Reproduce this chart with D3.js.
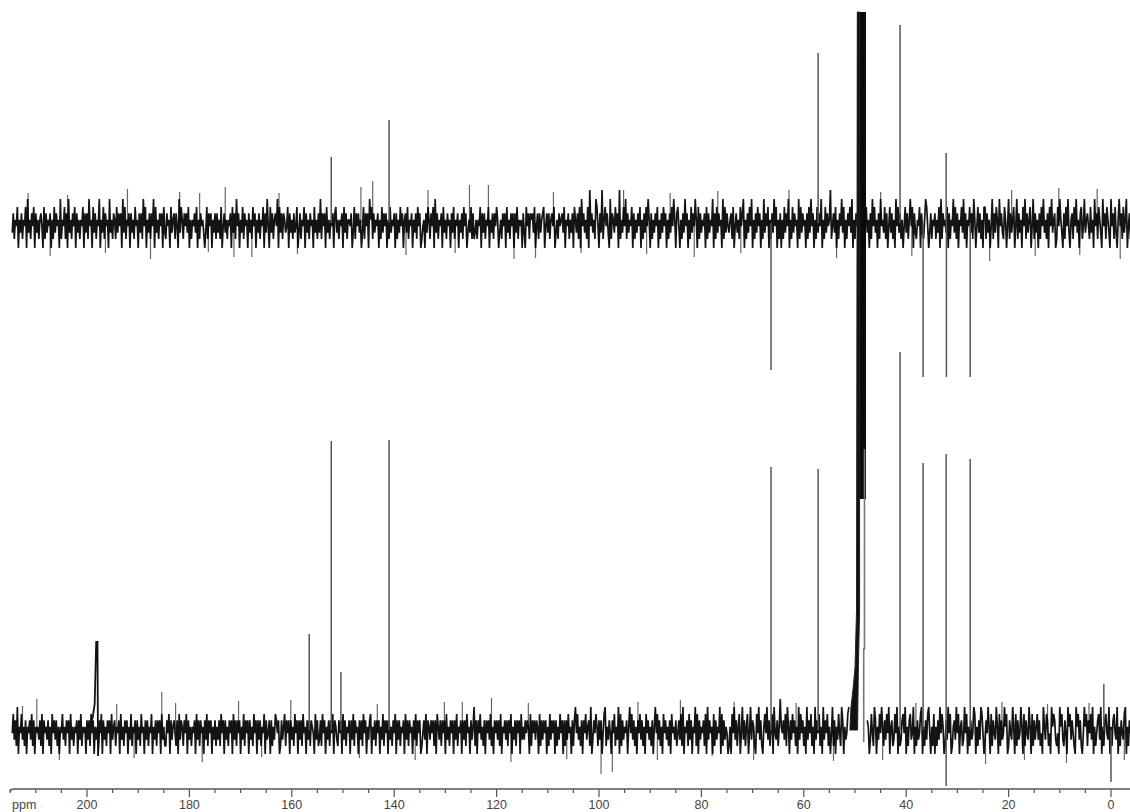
<!DOCTYPE html>
<html><head><meta charset="utf-8">
<script src="https://cdn.jsdelivr.net/npm/d3@7"></script>
<style>html,body{margin:0;padding:0;background:#fff;overflow:hidden}</style>
</head><body><svg id="c" width="1130" height="812"></svg>
<script>
// ---- chemical shift axis ----
const axisTicks = [200, 180, 160, 140, 120, 100, 80, 60, 40, 20, 0];
const axisUnit = "ppm";
const axisStart = 215, axisEnd = -4;
const noiseStart = 214.6, noiseStep = 0.2;

// ---- DEPT-135 trace (upper): [ppm, intensity] ----
const deptPeaks = [[152.3, 66], [141.0, 103], [66.4, -147], [57.2, 170], [41.2, 198],
                   [36.7, -154], [32.2, 70], [32.15, -154], [27.5, -154]];
const deptSpikes = [[144.2, 42], [125.3, 38], [178.0, 30], [171.3, -34], [116.6, -36],
  [211.5, 30], [207.2, -33], [203.8, 28], [196.4, -30], [192.1, 34], [187.6, -36], [181.9, 31],
  [176.3, -29], [173.0, 36], [167.8, -34], [162.5, 30], [158.9, -31], [146.5, 36], [137.7, -32],
  [133.4, 33], [128.1, -30], [121.6, 38], [112.4, -35], [108.9, 31], [103.5, -30], [95.2, 33],
  [90.7, -31], [86.1, 30], [81.4, -34], [76.8, 32], [72.3, -30], [62.9, 33], [53.6, -35],
  [45.0, 31], [38.9, -33], [23.7, -38], [19.4, 33], [14.8, -33], [10.2, 35], [6.1, -32],
  [2.7, 34], [-1.8, -36]];
const deptSolvent = [49.6, 47.85, 211, -276];   // ppm from, ppm to, top, bottom

// ---- broadband 13C trace (lower): [ppm, intensity] ----
const carbonPeaks = [[156.6, 96], [152.3, 289], [150.4, 58], [141.0, 290], [66.4, 263],
                     [57.2, 261], [41.2, 378], [36.7, 267], [32.2, 276], [32.2, -56],
                     [27.5, 271], [1.4, 46], [0.0, -52]];
const carbonSpikes = [[185.4, 38], [209.8, 31], [99.6, -44], [97.4, -42], [121.0, 32], [130.2, 28],
  [212.6, 24], [205.4, -30], [194.2, 26], [190.8, -28], [182.7, 27], [177.5, -32], [170.4, 29],
  [165.9, -27], [160.2, 30], [146.8, -28], [143.3, 26], [135.9, -30], [126.7, 28], [117.2, -32],
  [113.8, 27], [106.3, -29], [92.4, 28], [88.6, -30], [84.1, 30], [77.9, -26], [73.6, 28],
  [69.8, -30], [61.5, 27], [54.2, -31], [44.6, -30], [38.1, 27], [24.5, -34], [21.3, 28],
  [16.9, -30], [12.4, 26], [8.7, -33], [4.3, 27], [-2.6, -30]];
const ketoneShape = [[200.4, 0], [199.6, 5], [198.9, 12], [198.5, 26], [198.2, 88], [197.95, 88],
                     [197.85, -26], [197.6, 0]];
const solventShape = [[51.0, 0], [50.8, 22], [50.4, 40], [50.0, 62], [49.7, 120], [49.55, 718],
                      [49.1, 718], [49.1, 120], [49.35, 60], [49.5, 0]];
const solventShoulder = [[48.15, 281], [48.15, 81], [48.3, 81], [48.3, -12]];
const solventGap = [47.7, 51.0];

// baseline noise, one digit per 0.2 ppm step (0 = deepest trough, 9 = highest crest)
const deptNoise = [
  "36254715362547183526471635256417263546152736451825",
  "47261835264716352547163628451736254815372645183526",
  "52736461837254616352745163628471536264817352646173",
  "26451735626418375264637152546371526453137264615362",
  "63527146352546173628461537264516352746153625471638",
  "41736256481736265347163526347136254716352645173526",
  "38264617352546167352546173625546137264635137264618",
  "57263546152736461527354616253746156372546153627461",
  "24516375264718362546173526451637254615362746135372",
  "62352547163625471536264751352646173526461637254516",
  "31746265637146263567146362564713526456371546253617",
  "53627184635271946352874163925746318265374619253748",
  "26354716253647152637485162536471526374615263748516",
  "74152638461527364851726354617263548162736451827364",
  "35627146352746815263748152637461528364715263847152",
  "61527364815273645182736451627384615273648152736459",
  "24637152648371526473815264735162847351628473516284",
  "53726147362518473625147362584716325471632587413625",
  "46253718264537162548372615473826154736285147362517",
  "72635148263751846327514826357148263517482635714826",
  "35162748352617483561274853162748315627483516724835",
  "64273518462753184627531846273158462735814627351846"
].join("");
const carbonNoise = [
  "47362815473526154637261545362716453625174636251547",
  "35264617352546163725451636274615352647163526461735",
  "62546173526461537254616352745163625471536264617352",
  "26471635642617365264716352546173626451637264615362",
  "53627461635264617362646153726461635274616362547163",
  "46162537646126357264616352746163627451636265417362",
  "36274615362647165326461736254616372645163627461536",
  "71536264615372646163526471636254617362645163726461",
  "24637165364626175362646173526461637254616362745163",
  "58261647352616463725164636271546362647153626461735",
  "36465172646365172636461527364616253746162637451626",
  "84735261647356281364752636147825364164725381726354",
  "61584736251647362517463526158473625174635261745362",
  "46372815462736154827163546271836451726354817263541",
  "25174836257148362571483652174836215748362571843625",
  "95463728516374625183746251836472518364725183647251",
  "48261537428615347826513748216537482651374286153748",
  "52637481562374815236748152673481526347815263784152",
  "71526384751263847125638471562384715263487152638741",
  "36485172643851726348571264385172634851726438517263",
  "57362418537624185763241857326418573642185736214857",
  "26473815246738152674381526743815264378152647318526"
].join("");

// ---- scales ----
const x = d3.scaleLinear().domain([200, 0]).range([87, 1111]);
const yTop = d3.scaleLinear().domain([0, 100]).range([223, 123]);
const yBot = d3.scaleLinear().domain([0, 100]).range([730, 630]);
const noiseTop = d3.scaleLinear().domain([0, 1, 2, 7, 8, 9]).range([-34, -25, -16, 16, 24, 33]);
const noiseBot = d3.scaleLinear().domain([0, 1, 2, 7, 8, 9]).range([-32, -24, -16, 16, 23, 31]);

const svg = d3.select("#c");

function noiseSeries(str, scale, gap) {
  return Array.from(str, (ch, i) => {
    const ppm = noiseStart - i * noiseStep;
    return { ppm, v: scale(+ch), ok: !gap || ppm <= gap[0] || ppm >= gap[1] };
  });
}

function drawTrace(y, noise, peaks, spikes) {
  const g = svg.append("g");
  const line = d3.line().defined(d => d.ok).x(d => x(d.ppm)).y(d => y(d.v));
  g.selectAll("line.sp").data(spikes).join("line").attr("class", "sp")
    .attr("x1", d => x(d[0])).attr("x2", d => x(d[0]))
    .attr("y1", y(0)).attr("y2", d => y(d[1]))
    .attr("stroke", "#666").attr("stroke-width", 1.2);
  g.append("path").datum(noise).attr("d", line)
    .attr("fill", "none").attr("stroke", "#000").attr("stroke-width", 1.7)
    .attr("stroke-linejoin", "bevel").attr("stroke-opacity", 0.92);
  g.selectAll("line.pk").data(peaks).join("line").attr("class", "pk")
    .attr("x1", d => x(d[0])).attr("x2", d => x(d[0]))
    .attr("y1", y(0)).attr("y2", d => y(d[1]))
    .attr("stroke", "#555").attr("stroke-width", 1.5);
  return g;
}

// upper trace
const gTop = drawTrace(yTop, noiseSeries(deptNoise, noiseTop, null), deptPeaks, deptSpikes);
gTop.append("rect")
  .attr("x", x(deptSolvent[0])).attr("width", x(deptSolvent[1]) - x(deptSolvent[0]))
  .attr("y", yTop(deptSolvent[2])).attr("height", yTop(deptSolvent[3]) - yTop(deptSolvent[2]))
  .attr("fill", "#0a0a0a");

// lower trace
const gBot = drawTrace(yBot, noiseSeries(carbonNoise, noiseBot, solventGap), carbonPeaks, carbonSpikes);
const pl = d3.line().x(d => x(d[0])).y(d => yBot(d[1]));
gBot.append("path").datum(ketoneShape).attr("d", pl)
  .attr("fill", "none").attr("stroke", "#111").attr("stroke-width", 1.8);
gBot.append("path").datum(solventShape).attr("d", d => pl(d) + "Z")
  .attr("fill", "#111").attr("stroke", "#222").attr("stroke-width", 1);
gBot.append("path").datum(solventShoulder).attr("d", pl)
  .attr("fill", "none").attr("stroke", "#777").attr("stroke-width", 1.6);

// ---- axis ----
const axisY = 789;
const ga = svg.append("g").attr("transform", `translate(0,${axisY})`);
ga.append("path")
  .attr("d", `M${x(axisStart)},3 Q${x(axisStart)},0 ${x(axisStart) + 4},0 H${x(axisEnd)}`)
  .attr("fill", "none").attr("stroke", "#555").attr("stroke-width", 1.4);
const minor = d3.range(axisStart, axisEnd, -5);
ga.selectAll("line.t").data(minor).join("line").attr("class", "t")
  .attr("x1", d => x(d)).attr("x2", d => x(d))
  .attr("y1", 0).attr("y2", d => (d % 20 === 0 ? 8 : 4))
  .attr("stroke", "#555").attr("stroke-width", 1.2);
ga.selectAll("text.l").data(axisTicks).join("text").attr("class", "l")
  .attr("x", d => x(d)).attr("y", 20)
  .attr("text-anchor", "middle")
  .attr("font-family", "Liberation Sans, Arial, sans-serif").attr("font-size", 12.5)
  .attr("fill", "#444").text(d => d);
ga.append("text").attr("x", 12).attr("y", 20)
  .attr("font-family", "Liberation Sans, Arial, sans-serif").attr("font-size", 12.5)
  .attr("fill", "#444").text(axisUnit);
</script></body></html>
